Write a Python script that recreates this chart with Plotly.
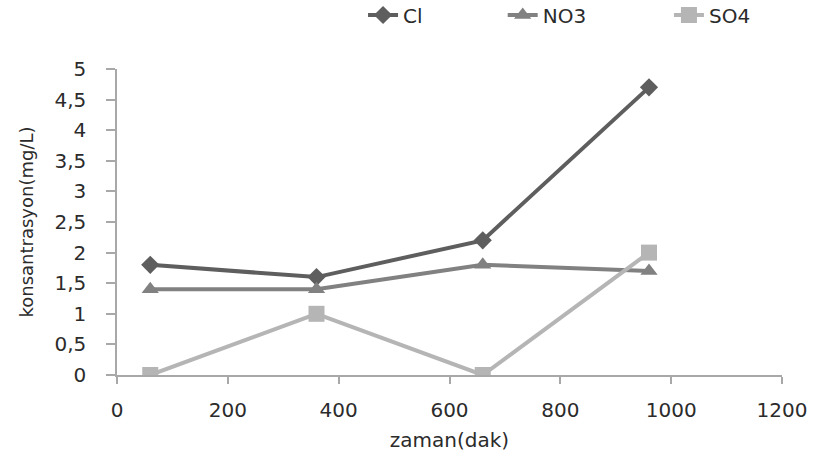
import plotly.graph_objects as go

# Sampling times (minutes) and measured concentrations (mg/L)
zaman = [60, 360, 660, 960]
cl = [1.8, 1.6, 2.2, 4.7]
no3 = [1.4, 1.4, 1.8, 1.7]
so4 = [0.0, 1.0, 0.0, 2.0]

# name, values, colour, marker symbol, marker size, legend id, legend x (paper)
series = [
    ("Cl", cl, "#5e5e5e", "diamond", 14, "legend", 0.37),
    ("NO3", no3, "#818181", "triangle-up", 15, "legend2", 0.58),
    ("SO4", so4, "#b5b5b5", "square", 16, "legend3", 0.83),
]

FONT = "DejaVu Sans, Verdana, sans-serif"
TXT = "#2b2b2b"
AX = "#a8a8a8"

fig = go.Figure()
layout_legends = {}
for name, vals, color, symbol, size, leg, lx in series:
    fig.add_trace(go.Scatter(
        x=zaman, y=vals, name=name, mode="lines+markers",
        line=dict(color=color, width=4),
        marker=dict(symbol=symbol, size=size, color=color),
        legend=leg,
    ))
    layout_legends[leg] = dict(
        x=lx, xanchor="left", y=(462 - 15) / 462, yanchor="middle",
        xref="paper", yref="container",
        orientation="h", bgcolor="rgba(0,0,0,0)",
        font=dict(family=FONT, size=20, color=TXT),
    )

fig.update_layout(
    width=818, height=462,
    margin=dict(l=117, r=36, t=69, b=87, autoexpand=False),
    paper_bgcolor="white", plot_bgcolor="white",
    separators=",.",
    font=dict(family=FONT, size=20, color=TXT),
    showlegend=True,
    xaxis=dict(
        range=[0, 1200], tickvals=[0, 200, 400, 600, 800, 1000, 1200],
        showline=True, linecolor=AX, linewidth=1.5,
        ticks="outside", tickcolor=AX, ticklen=7, tickwidth=1.5,
        ticklabelstandoff=9,
        showgrid=False, zeroline=False,
        title=dict(text="zaman(dak)", font=dict(size=20), standoff=12),
    ),
    yaxis=dict(
        range=[0, 5], dtick=0.5,
        showline=True, linecolor=AX, linewidth=1.5,
        ticks="outside", tickcolor=AX, ticklen=9, tickwidth=1.5,
        ticklabelstandoff=16,
        showgrid=False, zeroline=False,
        title=dict(text="konsantrasyon(mg/L)", font=dict(size=18), standoff=16),
    ),
)
for leg, cfg in layout_legends.items():
    fig.update_layout({leg: cfg})

fig.write_html("out.html")
